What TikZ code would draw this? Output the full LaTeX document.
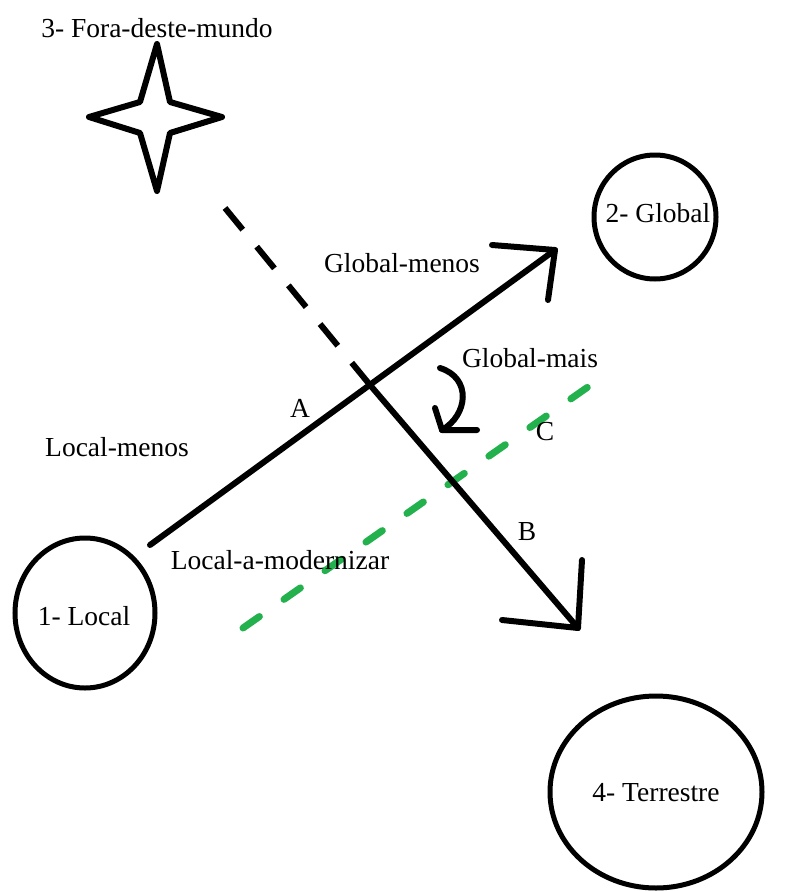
\documentclass[tikz,border=0pt]{standalone}
\usepackage{fontspec}
\setmainfont{Liberation Serif}
\usetikzlibrary{shapes.geometric}
\definecolor{paintgreen}{RGB}{34,177,76}
\begin{document}
\begin{tikzpicture}[x=1pt,y=-1pt,
  lbl/.style={font=\fontsize{27.5}{30}\selectfont, inner sep=0pt},
  ring/.style={draw, line width=5pt, ellipse, inner sep=0pt},
  thick line/.style={line width=6pt, line cap=round, line join=round},
  dashline/.style={line width=6pt, dash pattern=on 28pt off 22pt},
  greendash/.style={draw=paintgreen, line width=7pt, line cap=round, dash pattern=on 20pt off 30pt}]
\useasboundingbox (0,0) rectangle (788,891);
% circles
\node[ring, minimum width=122pt, minimum height=124pt] (glob) at (655,217) {};
\node[ring, minimum width=140pt, minimum height=150pt] (loc) at (85,613) {};
\node[ring, minimum width=212pt, minimum height=192pt] (terr) at (656,792) {};
% star
\draw[line width=6pt, line join=round] (157,44) -- (170,102) -- (222,117) -- (170,133) -- (157,191) -- (140,133) -- (89,117) -- (140,102) -- cycle;
% coordinates
\coordinate (a1) at (150,545);
\coordinate (a2) at (555,250);
\coordinate (d1) at (225,208);
\coordinate (x) at (370,385);
\coordinate (b2) at (578,628);
\coordinate (g1) at (243,628);
\coordinate (g2) at (595,382);
% green dashed
\draw[greendash] (g1) -- (g2);
% line A
\draw[thick line] (a1) -- (a2);
\draw[thick line] (492,245) -- (a2) -- (548,300);
% dashed then solid
\draw[dashline] (d1) -- (x);
\draw[thick line] (x) -- (b2);
\draw[thick line] (502,620) -- (b2) -- (582,560);
% curved arrow
\coordinate (c1) at (440,368);
\coordinate (c2) at (442,430);
\draw[thick line] (c1) .. controls (472,378) and (468,415) .. (c2);
\draw[thick line] (435,408) -- (c2) -- (477,430);
% labels
\node[lbl] (t3) at (157,28) {3- Fora-deste-mundo};
\node[lbl] (t2) at (658,213) {2- Global};
\node[lbl] (tgm) at (402,263) {Global-menos};
\node[lbl] (tgp) at (530,358) {Global-mais};
\node[lbl] (tA) at (300,408) {A};
\node[lbl] (tC) at (545,432) {C};
\node[lbl] (tlm) at (117,447) {Local-menos};
\node[lbl] (tB) at (527,532) {B};
\node[lbl] (tla) at (280,560) {Local-a-modernizar};
\node[lbl] (t1) at (84,616) {1- Local};
\node[lbl] (t4) at (656,793) {4- Terrestre};
\end{tikzpicture}
\end{document}
